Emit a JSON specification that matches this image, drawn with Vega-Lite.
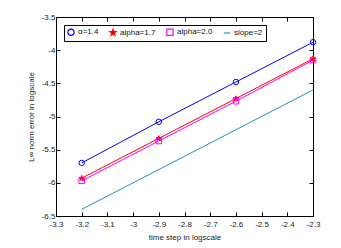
{
  "$schema": "https://vega.github.io/schema/vega-lite/v6.json",
  "width": 257,
  "height": 199,
  "autosize": {"type": "none"},
  "padding": {"left": 56, "top": 17, "right": 28, "bottom": 32},
  "background": "white",
  "config": {
    "view": {"stroke": "black", "strokeWidth": 1},
    "font": "Liberation Sans",
    "axis": {
      "grid": false,
      "domainColor": "black",
      "tickColor": "black",
      "labelColor": "#222",
      "titleColor": "#222",
      "labelFont": "Liberation Sans",
      "titleFont": "Liberation Sans",
      "labelFontSize": 8,
      "titleFontSize": 8,
      "titleFontWeight": "normal",
      "tickSize": -4,
      "labelFlush": false
    },
    "legend": {
      "labelFont": "Liberation Sans",
      "labelFontSize": 8,
      "labelColor": "#111"
    }
  },
  "data": {
    "values": [
      {"t": -3.2, "e": -5.70, "series": "α=1.4"},
      {"t": -2.9, "e": -5.08, "series": "α=1.4"},
      {"t": -2.6, "e": -4.48, "series": "α=1.4"},
      {"t": -2.3, "e": -3.88, "series": "α=1.4"},
      {"t": -3.2, "e": -5.93, "series": "alpha=1.7"},
      {"t": -2.9, "e": -5.33, "series": "alpha=1.7"},
      {"t": -2.6, "e": -4.73, "series": "alpha=1.7"},
      {"t": -2.3, "e": -4.13, "series": "alpha=1.7"},
      {"t": -3.2, "e": -5.97, "series": "alpha=2.0"},
      {"t": -2.9, "e": -5.37, "series": "alpha=2.0"},
      {"t": -2.6, "e": -4.77, "series": "alpha=2.0"},
      {"t": -2.3, "e": -4.15, "series": "alpha=2.0"},
      {"t": -3.2, "e": -6.40, "series": "slope=2"},
      {"t": -2.3, "e": -4.60, "series": "slope=2"}
    ]
  },
  "layer": [
    {
      "mark": {"type": "line", "strokeWidth": 1},
      "encoding": {
        "x": {
          "field": "t", "type": "quantitative",
          "scale": {"domain": [-3.3, -2.3], "nice": false, "zero": false},
          "axis": {
            "title": "time step in logscale",
            "values": [-3.3, -3.2, -3.1, -3, -2.9, -2.8, -2.7, -2.6, -2.5, -2.4, -2.3],
            "labelExpr": "replace(format(datum.value, '.1~f'), '\u2212', '-')",
            "labelPadding": 8,
            "titlePadding": 5
          }
        },
        "y": {
          "field": "e", "type": "quantitative",
          "scale": {"domain": [-6.5, -3.5], "nice": false, "zero": false},
          "axis": {
            "title": "L∞ norm error in logscale",
            "values": [-6.5, -6, -5.5, -5, -4.5, -4, -3.5],
            "labelExpr": "replace(format(datum.value, '.1~f'), '\u2212', '-')",
            "labelPadding": 5,
            "titlePadding": 6
          }
        },
        "stroke": {
          "field": "series", "type": "nominal", "title": null,
          "scale": {"domain": ["α=1.4", "alpha=1.7", "alpha=2.0", "slope=2"], "range": ["#0000ff", "#ff0000", "#ff00ff", "#1f8fc8"]},
          "legend": {
            "orient": "top-left", "direction": "horizontal", "offset": 8,
            "strokeColor": "black", "fillColor": "white", "padding": 3,
            "symbolSize": 40, "symbolStrokeWidth": 1.2, "columnPadding": 8, "labelOffset": 3
          }
        }
      }
    },
    {
      "transform": [{"filter": "datum.series != 'slope=2'"}],
      "mark": {"type": "point", "filled": false, "size": 30, "strokeWidth": 1, "opacity": 1},
      "encoding": {
        "x": {"field": "t", "type": "quantitative", "axis": null},
        "y": {"field": "e", "type": "quantitative", "axis": null},
        "stroke": {"field": "series", "type": "nominal", "title": null},
        "fill": {
          "field": "series", "type": "nominal", "title": null,
          "scale": {"domain": ["α=1.4", "alpha=1.7", "alpha=2.0", "slope=2"], "range": ["transparent", "#ff0000", "transparent", "transparent"]}
        },
        "shape": {
          "field": "series", "type": "nominal", "title": null,
          "scale": {"domain": ["α=1.4", "alpha=1.7", "alpha=2.0", "slope=2"], "range": ["circle", "M0,-1L0.2245,-0.309L0.951,-0.309L0.363,0.118L0.588,0.809L0,0.382L-0.588,0.809L-0.363,0.118L-0.951,-0.309L-0.2245,-0.309Z", "square", "stroke"]}
        }
      }
    },
    {
      "mark": {"type": "point", "opacity": 0},
      "encoding": {
        "x": {"field": "t", "type": "quantitative", "axis": {"orient": "top", "labels": false, "title": null, "values": [-3.3, -3.2, -3.1, -3, -2.9, -2.8, -2.7, -2.6, -2.5, -2.4, -2.3], "domain": false}},
        "y": {"field": "e", "type": "quantitative", "axis": {"orient": "right", "labels": false, "title": null, "values": [-6.5, -6, -5.5, -5, -4.5, -4, -3.5], "domain": false}}
      }
    }
  ],
  "resolve": {"axis": {"x": "independent", "y": "independent"}}
}
